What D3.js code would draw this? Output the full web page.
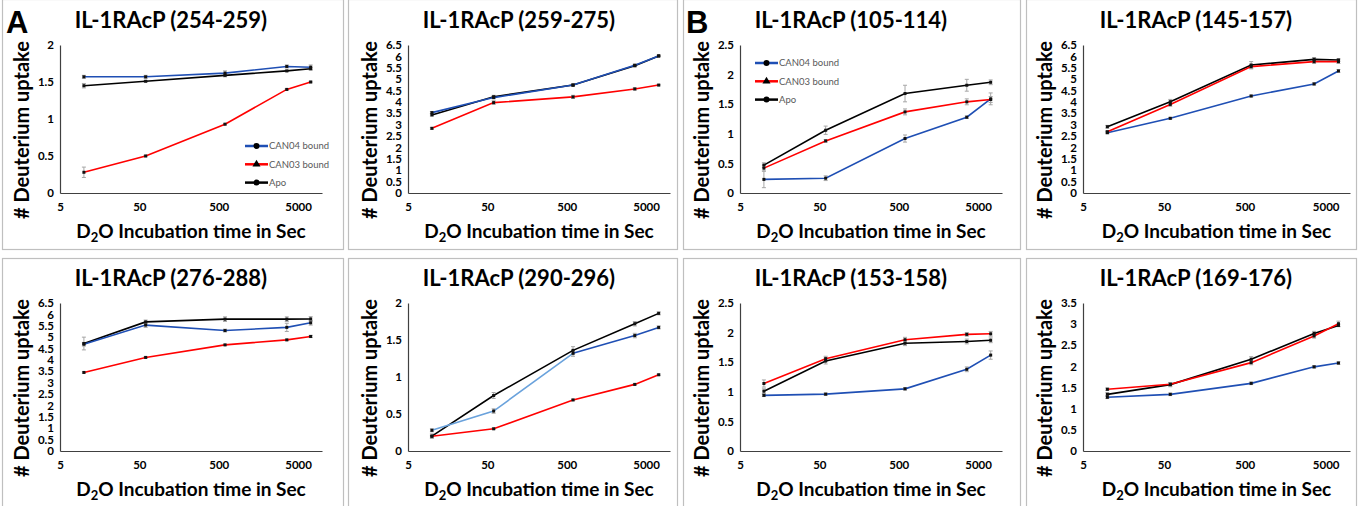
<!DOCTYPE html>
<html>
<head>
<meta charset="utf-8">
<script src="https://cdn.jsdelivr.net/npm/d3@7"></script>
<style>
  body { margin: 0; background: #fff; }
  svg { display: block; }
</style>
</head>
<body>
<svg id="chart"></svg>
<script>
// incubation times (s) and axis ticks
const times = [10, 60, 600, 3600, 7200]
const xTicks = [5, 50, 500, 5000]

const titles = ['IL-1RAcP (254-259)', 'IL-1RAcP (259-275)', 'IL-1RAcP (105-114)', 'IL-1RAcP (145-157)',
	'IL-1RAcP (276-288)', 'IL-1RAcP (290-296)', 'IL-1RAcP (153-158)', 'IL-1RAcP (169-176)']
const yMax = [2, 6.5, 2.5, 6.5, 6.5, 2, 2.5, 3.5]

// deuterium uptake per panel
const can04 = [
	[1.57, 1.57, 1.62, 1.71, 1.70],
	[3.53, 4.19, 4.74, 5.61, 6.02],
	[0.23, 0.25, 0.92, 1.28, 1.59],
	[2.65, 3.28, 4.26, 4.79, 5.36],
	[4.69, 5.53, 5.29, 5.43, 5.63],
	[0.28, 0.54, 1.32, 1.56, 1.67],
	[0.94, 0.96, 1.05, 1.38, 1.62],
	[1.27, 1.34, 1.60, 1.99, 2.08]
]
const can03 = [
	[0.28, 0.50, 0.93, 1.40, 1.50],
	[2.84, 3.97, 4.22, 4.57, 4.74],
	[0.42, 0.88, 1.37, 1.54, 1.58],
	[2.69, 3.89, 5.55, 5.77, 5.77],
	[3.45, 4.11, 4.66, 4.88, 5.03],
	[0.20, 0.30, 0.69, 0.90, 1.03],
	[1.14, 1.56, 1.88, 1.97, 1.98],
	[1.46, 1.58, 2.09, 2.72, 3.01]
]
const apo = [
	[1.45, 1.51, 1.59, 1.65, 1.68],
	[3.43, 4.23, 4.74, 5.59, 6.02],
	[0.47, 1.06, 1.68, 1.82, 1.87],
	[2.91, 4.01, 5.62, 5.87, 5.84],
	[4.72, 5.67, 5.79, 5.79, 5.80],
	[0.20, 0.75, 1.36, 1.72, 1.86],
	[1.01, 1.52, 1.82, 1.85, 1.87],
	[1.34, 1.57, 2.17, 2.78, 2.97]
]
// standard deviations
const can04Err = [
	[0.02, 0.02, 0.03, 0.02, 0.03],
	[0.05, 0.05, 0.04, 0.05, 0.03],
	[0.14, 0.04, 0.06, 0.02, 0.10],
	[0.05, 0.04, 0.04, 0.05, 0.06],
	[0.08, 0.10, 0.06, 0.18, 0.10],
	[0.02, 0.03, 0.04, 0.03, 0.02],
	[0.02, 0.02, 0.02, 0.04, 0.07],
	[0.03, 0.03, 0.03, 0.03, 0.03]
]
const can03Err = [
	[0.07, 0.01, 0.01, 0.01, 0.01],
	[0.04, 0.08, 0.07, 0.05, 0.03],
	[0.05, 0.02, 0.05, 0.05, 0.05],
	[0.05, 0.08, 0.10, 0.08, 0.08],
	[0.03, 0.03, 0.03, 0.03, 0.05],
	[0.01, 0.01, 0.01, 0.01, 0.01],
	[0.06, 0.04, 0.04, 0.03, 0.04],
	[0.03, 0.04, 0.05, 0.05, 0.06]
]
const apoErr = [
	[0.03, 0.01, 0.02, 0.01, 0.02],
	[0.05, 0.06, 0.05, 0.05, 0.03],
	[0.04, 0.07, 0.14, 0.10, 0.04],
	[0.06, 0.10, 0.15, 0.08, 0.06],
	[0.28, 0.08, 0.10, 0.10, 0.10],
	[0.03, 0.04, 0.05, 0.03, 0.02],
	[0.04, 0.05, 0.04, 0.04, 0.04],
	[0.04, 0.05, 0.06, 0.05, 0.03]
]
// panel 6 draws its first CAN04 segments in light blue
const lightSegments = [0, 0, 0, 0, 0, 2, 0, 0]

const width = 1358,
	height = 506

const svg = d3.select('#chart').attr('width', width).attr('height', height)

const font = 'Lato, "Open Sans", sans-serif'
const blue = '#1f4fb4',
	lightBlue = '#6aa2dc',
	red = '#ff0000'

// panel frames
const frameX = [[2, 343], [348, 677], [683, 1020], [1026, 1356]]
const frameY = [[-1, 249], [258, 507]]
const axisLeft = [60, 408, 740, 1083],
	axisRight = [322, 670, 1002, 1350]
const plotTop = [45, 303],
	plotBottom = [193, 451]
const titleX = [171, 519, 851, 1196]

frameX.forEach(function (fx) {
	frameY.forEach(function (fy) {
		svg.append('rect')
			.attr('x', fx[0] + 0.5).attr('y', fy[0] + 0.5)
			.attr('width', fx[1] - fx[0]).attr('height', fy[1] - fy[0])
			.attr('fill', 'none').attr('stroke', '#bfbfbf').attr('stroke-width', 1.2)
	})
})

titles.forEach(function (title, i) {
	const col = i % 4,
		row = Math.floor(i / 4)
	const x = d3.scaleLog().domain([5, 10000]).range([axisLeft[col], axisRight[col]])
	const y = d3.scaleLinear().domain([0, yMax[i]]).range([plotBottom[row], plotTop[row]])
	const g = svg.append('g')

	// title
	g.append('text')
		.attr('x', titleX[col]).attr('y', plotTop[row] - 17)
		.attr('text-anchor', 'middle')
		.style('font', 'bold 22px ' + font)
		.text(title)

	// y axis
	const yTicks = d3.range(0, yMax[i] + 0.001, 0.5)
	const yAxis = g.append('g')
		.attr('transform', 'translate(' + axisLeft[col] + ',0)')
		.call(d3.axisLeft(y).tickValues(yTicks).tickSize(0).tickPadding(6)
			.tickFormat(function (d) { return String(+d.toFixed(1)) }))
	// x axis
	const xAxis = g.append('g')
		.attr('transform', 'translate(0,' + plotBottom[row] + ')')
		.call(d3.axisBottom(x).tickValues(xTicks).tickSize(0).tickPadding(10)
			.tickFormat(d3.format('d')))
	;[yAxis, xAxis].forEach(function (a) {
		a.select('.domain').attr('stroke', '#404040').attr('stroke-width', 1.2)
		a.selectAll('text').style('font', 'bold 11.5px ' + font).attr('fill', '#000')
	})

	// axis titles
	const yc = (plotTop[row] + plotBottom[row]) / 2 + 11
	g.append('text')
		.attr('transform', 'translate(' + (axisLeft[col] - 31) + ',' + yc + ') rotate(-90)')
		.attr('text-anchor', 'middle')
		.style('font', 'bold 20px ' + font)
		.text('# Deuterium uptake')
	const xt = g.append('text')
		.attr('x', (axisLeft[col] + axisRight[col]) / 2).attr('y', plotBottom[row] + 45)
		.attr('text-anchor', 'middle')
		.style('font', 'bold 19px ' + font)
	xt.append('tspan').text('D')
	xt.append('tspan').attr('dy', 4).style('font-size', '13px').text('2')
	xt.append('tspan').attr('dy', -4).text('O Incubation time in Sec')

	const series = [
		{ v: apo[i], e: apoErr[i], color: '#000' },
		{ v: can04[i], e: can04Err[i], color: blue },
		{ v: can03[i], e: can03Err[i], color: red }
	]
	const pts = function (s) {
		return times.map(function (t, k) { return { t: t, v: s.v[k], e: s.e[k] } })
	}

	// error bars
	series.forEach(function (s) {
		const eb = g.append('g').attr('stroke', '#a6a6a6').attr('stroke-width', 1)
		pts(s).forEach(function (p) {
			const px = x(p.t)
			eb.append('line').attr('x1', px).attr('x2', px).attr('y1', y(p.v - p.e)).attr('y2', y(p.v + p.e))
			eb.append('line').attr('x1', px - 2).attr('x2', px + 2).attr('y1', y(p.v - p.e)).attr('y2', y(p.v - p.e))
			eb.append('line').attr('x1', px - 2).attr('x2', px + 2).attr('y1', y(p.v + p.e)).attr('y2', y(p.v + p.e))
		})
	})

	// lines
	const line = d3.line().x(function (p) { return x(p.t) }).y(function (p) { return y(p.v) })
	series.forEach(function (s) {
		const p = pts(s)
		if (s.color === blue && lightSegments[i] > 0) {
			const n = lightSegments[i]
			g.append('path').datum(p.slice(0, n + 1)).attr('d', line)
				.attr('fill', 'none').attr('stroke', lightBlue).attr('stroke-width', 1.6)
			g.append('path').datum(p.slice(n)).attr('d', line)
				.attr('fill', 'none').attr('stroke', blue).attr('stroke-width', 1.6)
		} else {
			g.append('path').datum(p).attr('d', line)
				.attr('fill', 'none').attr('stroke', s.color).attr('stroke-width', 1.6)
		}
	})

	// point markers
	series.forEach(function (s) {
		g.selectAll(null).data(pts(s)).enter().append('rect')
			.attr('x', function (p) { return x(p.t) - 1.5 })
			.attr('y', function (p) { return y(p.v) - 1.5 })
			.attr('width', 3).attr('height', 3)
			.attr('fill', '#111')
	})
})

// legends (panels 1 and 3)
const legendItems = [
	{ label: 'CAN04 bound', color: blue, shape: d3.symbolCircle },
	{ label: 'CAN03 bound', color: red, shape: d3.symbolTriangle },
	{ label: 'Apo', color: '#000', shape: d3.symbolCircle }
]
const legendPos = [[245, 146], [755, 63]]
legendPos.forEach(function (lp) {
	const lg = svg.append('g').attr('transform', 'translate(' + lp[0] + ',' + lp[1] + ')')
	legendItems.forEach(function (it, k) {
		const row = lg.append('g').attr('transform', 'translate(0,' + k * 18.3 + ')')
		row.append('line').attr('x1', 0).attr('x2', 23).attr('stroke', it.color).attr('stroke-width', 2.5)
		row.append('path').attr('transform', 'translate(11.5,0)')
			.attr('d', d3.symbol().type(it.shape).size(28)).attr('fill', '#000')
		row.append('text').attr('x', 24).attr('dy', '0.35em')
			.style('font', '9.5px ' + font).attr('fill', '#595959')
			.text(it.label)
	})
})

// panel letters
svg.append('text').attr('x', 6).attr('y', 33)
	.style('font', 'bold 31px "Liberation Sans", Arial, sans-serif').text('A')
svg.append('text').attr('x', 686).attr('y', 33)
	.style('font', 'bold 31px "Liberation Sans", Arial, sans-serif').text('B')
</script>
</body>
</html>
